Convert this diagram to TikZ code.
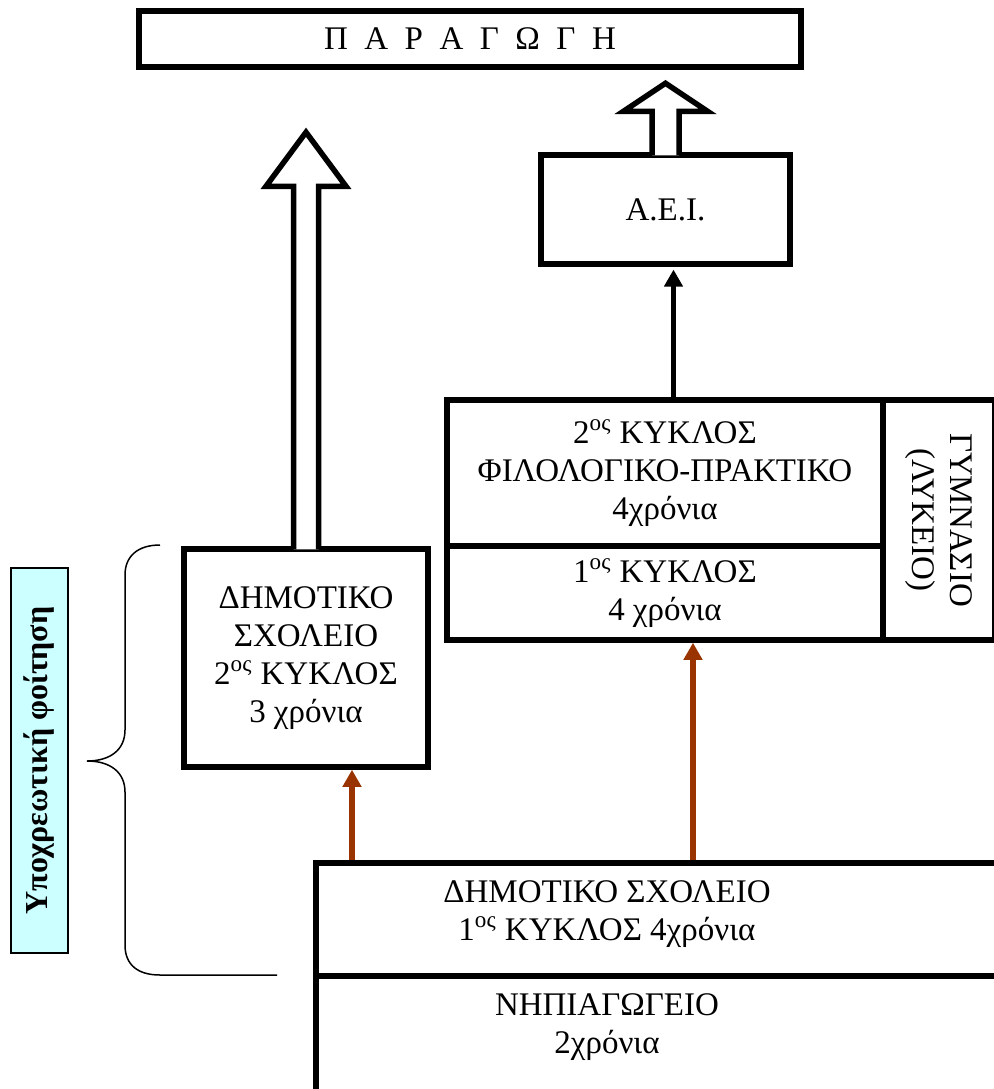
\documentclass[tikz,border=0pt]{standalone}
\usepackage{fontspec}
\setmainfont{Liberation Serif}
\usepackage{xcolor}
\usetikzlibrary{arrows.meta}

\definecolor{brownline}{HTML}{993300}
\definecolor{labelcyan}{HTML}{CCFFFF}

\tikzset{
  cell/.style={draw, line width=2.75pt, inner sep=0pt, align=center,
    font=\fontsize{16.5}{19}\selectfont},
  txt/.style={align=center, font=\fontsize{16.5}{19}\selectfont},
  hollow/.style={draw, fill=white, line width=2.75pt, line join=miter},
  upbrown/.style={draw=brownline, line width=2.6pt, -{Triangle[width=9pt,length=8.5pt]}},
  upblack/.style={line width=2.75pt, -{Triangle[width=9pt,length=8.5pt]}},
}

\begin{document}
\begin{tikzpicture}[x=0.5pt, y=-0.5pt]
      \useasboundingbox (0,0) rectangle (994,1089);

      % boxes
      \node[cell, minimum width=331pt, minimum height=28pt] (paragogi) at (470,39) {Π\ \ Α\ \ Ρ\ \ Α\ \ Γ\ \ Ω\ \ Γ\ \ Η};
      \node[cell, minimum width=124.5pt, minimum height=54.5pt] (aei) at (665.5,209.5) {A.E.I.};
      \node[cell, minimum width=218pt, minimum height=73pt] (lyk2) at (665,473) {2\textsuperscript{ος} ΚΥΚΛΟΣ\\ΦΙΛΟΛΟΓΙΚΟ-ΠΡΑΚΤΙΚΟ\\4χρόνια};
      \node[cell, minimum width=218pt, minimum height=47pt] (lyk1) at (665,593) {1\textsuperscript{ος} ΚΥΚΛΟΣ\\4 χρόνια};
      \node[cell, minimum width=120pt, minimum height=56pt, rotate=-90] (gymn) at (939,520) {ΓΥΜΝΑΣΙΟ\\(ΛΥΚΕΙΟ)};
      \node[cell, minimum width=122pt, minimum height=109pt] (dim2) at (306,658) {ΔΗΜΟΤΙΚΟ\\ΣΧΟΛΕΙΟ\\2\textsuperscript{ος} ΚΥΚΛΟΣ\\3 χρόνια};
      \node[cell, minimum width=352pt, minimum height=56.5pt] (dim1) at (668,919.5) {};
      \node[cell, minimum width=352pt, minimum height=62pt] (nipio) at (668,1038) {};
      \node[txt] (dim1txt) at (607,914) {ΔΗΜΟΤΙΚΟ ΣΧΟΛΕΙΟ\\1\textsuperscript{ος} ΚΥΚΛΟΣ 4χρόνια};
      \node[txt] (nipiotxt) at (607,1027) {ΝΗΠΙΑΓΩΓΕΙΟ\\2χρόνια};

      % side label
      \node[draw, line width=0.75pt, fill=labelcyan, rotate=90, minimum width=192.5pt, minimum height=28.5pt,
        font=\fontsize{16}{19}\selectfont\bfseries] (oblig) at (39.5,760.5) {Υποχρεωτική φοίτηση};

      % hollow arrows
      \filldraw[hollow] ([xshift=-6.25pt,yshift=-1.5pt]dim2.north) -- ++(0,-363) -- ++(-27.5,0) -- ++(40,-54)
        -- ++(40,54) -- ++(-27.5,0) -- ([xshift=6.25pt,yshift=-1.5pt]dim2.north);
      \filldraw[hollow] ([xshift=-6.75pt,yshift=-1.5pt]aei.north) -- ++(0,-44) -- ++(-28.5,0) -- ++(42,-28)
        -- ++(42,28) -- ++(-28.5,0) -- ([xshift=6.75pt,yshift=-1.5pt]aei.north);

      % arrows
      \coordinate (b1) at ([xshift=23pt]dim2.south);
      \coordinate (b2) at ([xshift=14pt]lyk1.south);
      \coordinate (b3) at ([xshift=4pt]aei.south);
      \draw[upbrown] (b1 |- dim1.north) -- (b1);
      \draw[upbrown] (b2 |- dim1.north) -- (b2);
      \draw[upblack] (b3 |- lyk2.north) -- ([yshift=-1.4pt]b3);

      % brace
      \draw[line width=0.75pt] (160,545) .. controls (138,545) and (125,556) .. (125,575) -- (125,730)
        .. controls (125,750) and (110,761) .. (87,761) .. controls (110,761) and (125,772) .. (125,792)
        -- (125,945) .. controls (125,965) and (138,975) .. (160,975) -- (277,975);
\end{tikzpicture}
\end{document}
